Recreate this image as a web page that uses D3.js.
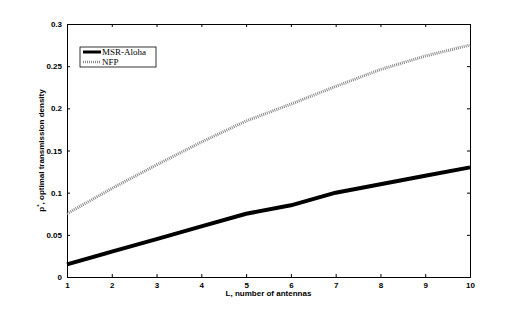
<!DOCTYPE html>
<html>
<head>
<meta charset="utf-8">
<script src="https://cdn.jsdelivr.net/npm/d3@7"></script>
<style>
  body { margin: 0; background: #fff; }
  svg { display: block; }
</style>
</head>
<body>
<svg id="chart" width="519" height="312"></svg>
<script>
// data
const antennas = [1, 2, 3, 4, 5, 6, 7, 8, 9, 10];
const msrAloha = [0.015, 0.03, 0.045, 0.06, 0.075, 0.085, 0.1, 0.11, 0.12, 0.13];
const nfp = [0.075, 0.105, 0.133, 0.16, 0.185, 0.205, 0.226, 0.246, 0.262, 0.275];
const yTicks = [0, 0.05, 0.1, 0.15, 0.2, 0.25, 0.3];
const yTickLabels = ['0', '0.05', '0.1', '0.15', '0.2', '0.25', '0.3'];

const translate = (x, y) => `translate(${x}, ${y})`;

const width = 519, height = 312;
const margins = { top: 24, right: 49, bottom: 35, left: 67 };

const svg = d3.select('#chart');

const x = d3.scaleLinear()
    .domain([1, 10])
    .range([margins.left, width - margins.right]);
const y = d3.scaleLinear()
    .domain([0, 0.3])
    .range([height - margins.bottom, margins.top]);

const tickFont = 'Liberation Sans, Arial, sans-serif';

// axes (matlab style: ticks inside, box all round)
const xAxis = d3.axisBottom(x).tickValues(antennas).tickSize(-3).tickPadding(5).tickFormat(d3.format('d'));
const xTop = d3.axisTop(x).tickValues(antennas).tickSize(-3).tickFormat('');
const yAxis = d3.axisLeft(y).tickValues(yTicks).tickSize(-3).tickPadding(5)
    .tickFormat((d, i) => yTickLabels[i]);
const yRight = d3.axisRight(y).tickValues(yTicks).tickSize(-3).tickFormat('');

const styleAxis = g => {
    g.select('.domain').attr('stroke', '#000').attr('stroke-width', 1);
    g.selectAll('.tick line').attr('stroke', '#000');
    g.selectAll('text')
        .attr('font-family', tickFont)
        .attr('font-weight', 'bold')
        .attr('font-size', 8)
        .attr('fill', '#000');
};

svg.append('g').attr('transform', translate(0, height - margins.bottom)).call(xAxis).call(styleAxis);
svg.append('g').attr('transform', translate(0, margins.top)).call(xTop).call(styleAxis);
svg.append('g').attr('transform', translate(margins.left, 0)).call(yAxis).call(styleAxis);
svg.append('g').attr('transform', translate(width - margins.right, 0)).call(yRight).call(styleAxis);

// lines
const line = d3.line()
    .x((d, i) => x(antennas[i]))
    .y(d => y(d));

svg.append('path')
    .datum(nfp)
    .attr('fill', 'none')
    .attr('stroke', '#8a8a8a')
    .attr('stroke-width', 3)
    .attr('stroke-dasharray', '1,1')
    .attr('d', line);

svg.append('path')
    .datum(msrAloha)
    .attr('fill', 'none')
    .attr('stroke', '#000')
    .attr('stroke-width', 4)
    .attr('stroke-linejoin', 'round')
    .attr('d', line);

// axis labels
svg.append('text')
    .attr('x', (margins.left + width - margins.right) / 2)
    .attr('y', height - margins.bottom + 19)
    .attr('text-anchor', 'middle')
    .attr('font-family', tickFont)
    .attr('font-weight', 'bold')
    .attr('font-size', 8)
    .text('L, number of antennas');

const yLabel = svg.append('text')
    .attr('transform', `translate(44, ${(margins.top + height - margins.bottom) / 2}) rotate(-90)`)
    .attr('text-anchor', 'middle')
    .attr('font-family', tickFont)
    .attr('font-weight', 'bold')
    .attr('font-size', 8);
yLabel.append('tspan').text('p');
yLabel.append('tspan').attr('dy', -3).attr('font-size', 6).text('*');
yLabel.append('tspan').attr('dy', 3).text(', optimal transmission density');

// legend
const legend = svg.append('g').attr('transform', translate(80, 47));
legend.append('rect')
    .attr('width', 76).attr('height', 20)
    .attr('fill', '#fff').attr('stroke', '#000').attr('stroke-width', 0.8);

const legendItems = [
    { name: 'MSR-Aloha', color: '#000', w: 3, dash: null },
    { name: 'NFP', color: '#8a8a8a', w: 2.5, dash: '1,1' }
];
legendItems.forEach((it, i) => {
    const ly = 5 + i * 10;
    legend.append('line')
        .attr('x1', 3).attr('x2', 21).attr('y1', ly).attr('y2', ly)
        .attr('stroke', it.color).attr('stroke-width', it.w)
        .attr('stroke-dasharray', it.dash);
    legend.append('text')
        .attr('x', 22).attr('y', ly + 3)
        .attr('font-family', 'Liberation Serif, Times New Roman, serif')
        .attr('font-size', 9)
        .text(it.name);
});
</script>
</body>
</html>
